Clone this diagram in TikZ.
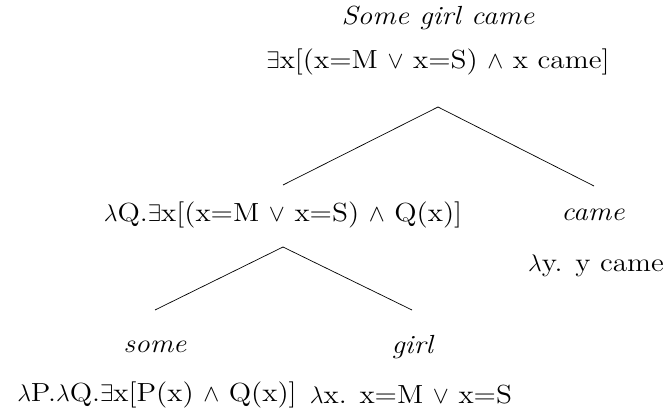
\documentclass[tikz,border=0pt]{standalone}
\usepackage{fontspec}
\setmainfont{Latin Modern Roman}[FakeStretch=1.12]
\begin{document}
\begin{tikzpicture}[x=0.5pt,y=-0.5pt,
  lbl/.style={inner sep=0pt,font=\fontsize{13.1}{15}\selectfont},
  edge/.style={line width=0.35pt}]
\useasboundingbox (0,0) rectangle (665,417);
\node[lbl] (s) at (438,18) {\textit{Some girl came}};
\node[lbl] (sm) at (438,62) {$\exists$x[(x=M $\vee$ x=S) $\wedge$ x came]};
\node[lbl] (np) at (283,215) {$\lambda$Q.$\exists$x[(x=M $\vee$ x=S) $\wedge$ Q(x)]};
\node[lbl] (vp) at (593,215) {\textit{came}};
\node[lbl] (vpm) at (596,266) {$\lambda$y. y came};
\node[lbl] (d) at (155,347) {\textit{some}};
\node[lbl] (n) at (413,347) {\textit{girl}};
\node[lbl] (dm) at (157,395) {$\lambda$P.$\lambda$Q.$\exists$x[P(x) $\wedge$ Q(x)]};
\node[lbl] (nm) at (411,395) {$\lambda$x. x=M $\vee$ x=S};
\coordinate (a1) at (438,107);
\coordinate (l1) at (283,185);
\coordinate (r1) at (594,186);
\coordinate (a2) at (283,247);
\coordinate (l2) at (155,310);
\coordinate (r2) at (412,310);
\draw[edge] (l1) -- (a1) -- (r1);
\draw[edge] (l2) -- (a2) -- (r2);
\end{tikzpicture}
\end{document}
